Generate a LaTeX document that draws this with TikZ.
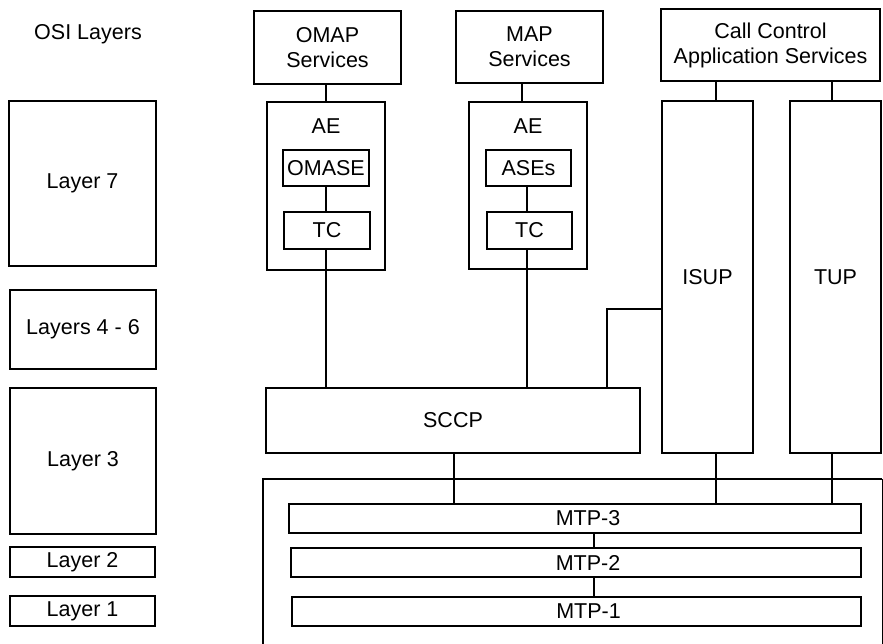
\documentclass[tikz,border=0pt]{standalone}
\usepackage{fontspec}
\setmainfont{Liberation Sans}
\begin{document}
\begin{tikzpicture}[x=1pt, y=-1pt,
  every node/.style={font=\fontsize{21.5}{25}\selectfont},
  box/.style={draw, line width=2.1pt, inner sep=0pt, align=center},
  wire/.style={line width=2.1pt}]
\useasboundingbox (0,0) rectangle (883,643);

% OSI reference column
\node (osi) at (88,34) {OSI Layers};
\node[box, minimum width=147pt, minimum height=165pt] (l7)  at (82.5,183.5) {Layer 7};
\node[box, minimum width=146pt, minimum height=79pt]  (l46) at (83,329.5)   {Layers 4 - 6};
\node[box, minimum width=146pt, minimum height=146pt] (l3)  at (83,461)     {Layer 3};
\node[box, minimum width=145pt, minimum height=30pt]  (l2)  at (82.5,562)   {Layer 2};
\node[box, minimum width=145pt, minimum height=30pt]  (l1)  at (82.5,611)   {Layer 1};

% Application services
\node[box, minimum width=147pt, minimum height=73pt] (omap) at (327.5,47.5) {OMAP\\Services};
\node[box, minimum width=147pt, minimum height=72pt] (map)  at (529.5,47)   {MAP\\Services};
\node[box, minimum width=219pt, minimum height=72pt] (cc)   at (770.5,45)   {Call Control\\Application Services};

% Application entities
\node[box, minimum width=118pt, minimum height=168pt,
      label={[anchor=center, yshift=-25pt]north:AE}] (ae1) at (326,186) {};
\node[box, minimum width=86pt, minimum height=36pt] (omase) at (326,168)   {OMASE};
\node[box, minimum width=86pt, minimum height=37pt] (tc1)   at (327,230.5) {TC};

\node[box, minimum width=118pt, minimum height=167pt,
      label={[anchor=center, yshift=-25pt]north:AE}] (ae2) at (528,185.5) {};
\node[box, minimum width=85pt, minimum height=36pt] (ases) at (528.5,168)   {ASEs};
\node[box, minimum width=85pt, minimum height=37pt] (tc2)  at (529.5,230.5) {TC};

% User parts
\node[box, minimum width=91pt, minimum height=352pt] (isup) at (707.5,277) {ISUP};
\node[box, minimum width=91pt, minimum height=352pt] (tup)  at (835.5,277) {TUP};

% SCCP and the MTP frame (its right edge is a thin rule)
\node[box, minimum width=374pt, minimum height=65pt] (sccp) at (453,420.5) {SCCP};
\node[inner sep=0pt, minimum width=619pt, minimum height=180pt] (mtp) at (572.5,569) {};
\draw[wire] (mtp.south west) -- (mtp.north west) -- (mtp.north east);
\draw[line width=1.1pt] (mtp.north east) -- (mtp.south east);
\node[box, minimum width=572pt, minimum height=29pt,
      label={[xshift=13pt]center:MTP-3}] (mtp3) at (575,518.5) {};
\node[box, minimum width=570pt, minimum height=29pt,
      label={[xshift=12pt]center:MTP-2}] (mtp2) at (576,562.5) {};
\node[box, minimum width=569pt, minimum height=29pt,
      label={[xshift=12pt]center:MTP-1}] (mtp1) at (576.5,611.5) {};

% Vertical positions of the connectors
\coordinate (xa) at (326,0);
\coordinate (xb) at (522,0);
\coordinate (xc) at (527,0);
\coordinate (xd) at (716,0);
\coordinate (xe) at (832,0);
\coordinate (xf) at (454,0);
\coordinate (xg) at (594,0);
\coordinate (bend) at (607,309);

% Connectors
\draw[wire] (omap.south -| xa) -- (ae1.north -| xa);
\draw[wire] (omase.south -| xa) -- (tc1.north -| xa);
\draw[wire] (tc1.south -| xa) -- (sccp.north -| xa);

\draw[wire] (map.south -| xb) -- (ae2.north -| xb);
\draw[wire] (ases.south -| xc) -- (tc2.north -| xc);
\draw[wire] (tc2.south -| xc) -- (sccp.north -| xc);

\draw[wire] (cc.south -| xd) -- (isup.north -| xd);
\draw[wire] (cc.south -| xe) -- (tup.north -| xe);

\draw[wire] (isup.west |- bend) -- (bend) -- (sccp.north -| bend);

\draw[wire] (sccp.south -| xf) -- (mtp3.north -| xf);
\draw[wire] (isup.south -| xd) -- (mtp3.north -| xd);
\draw[wire] (tup.south -| xe) -- (mtp3.north -| xe);
\draw[wire] (mtp3.south -| xg) -- (mtp2.north -| xg);
\draw[wire] (mtp2.south -| xg) -- (mtp1.north -| xg);
\end{tikzpicture}
\end{document}
